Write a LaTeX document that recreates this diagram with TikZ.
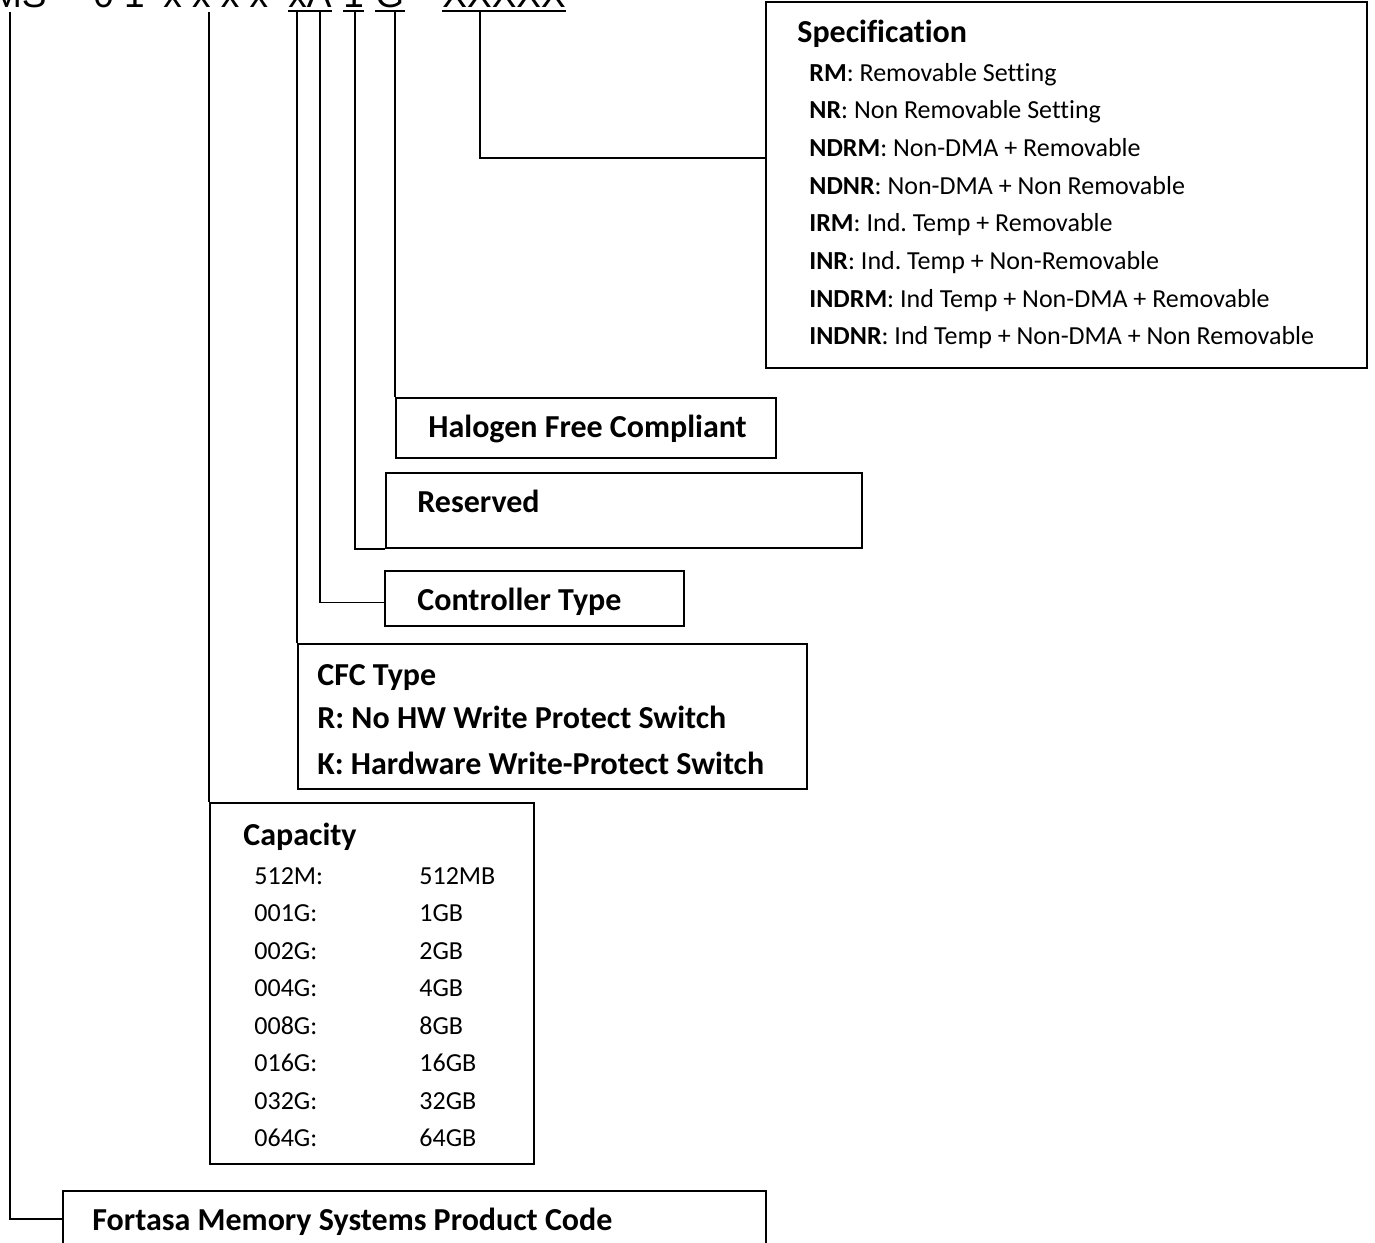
\documentclass[tikz,border=0pt]{standalone}
\usepackage{fontspec}
\setmainfont[Ligatures=NoCommon]{Carlito}
\newfontfamily\arialfont{Liberation Sans}
\frenchspacing
\begin{document}
\begin{tikzpicture}[x=0.5pt,y=-0.5pt,
  box/.style={draw, line width=1pt, inner sep=0pt, anchor=north west},
  conn/.style={line width=0.8pt},
  uline/.style={line width=1pt},
  hd/.style={font=\bfseries\fontsize{16}{19}\selectfont, anchor=base west, inner sep=0pt},
  itm/.style={font=\fontsize{13}{16}\selectfont, anchor=base west, inner sep=0pt},
  codetxt/.style={font=\arialfont\fontsize{18.5}{22}\selectfont, anchor=base west, inner sep=0pt}]
\clip (0,0) rectangle (1375,1242);

% product code (only the lower part is visible)
\node[codetxt, anchor=base east] (t1) at (47,7) {FMS};
\node[codetxt] (t2) at (93,7) {0 1};
\node[codetxt] (t3) at (163,7) {x x x x};
\node[codetxt] (t4) at (288,7) {xA};
\node[codetxt] (t5) at (343,7) {1};
\node[codetxt] (t6) at (375,7) {G};
\node[codetxt] (t7) at (442,7) {XXXXX};
\foreach \t in {t4,t5,t6,t7}
  \draw[uline] ([yshift=-2pt]\t.base west) -- ([yshift=-2pt]\t.base east);

% boxes
\node[box, minimum width=300.5pt, minimum height=183pt] (spec) at (765,1) {};
\node[box, minimum width=190pt, minimum height=30pt] (halo) at (395,397) {};
\node[box, minimum width=238pt, minimum height=37.5pt] (resv) at (385,472) {};
\node[box, minimum width=149.5pt, minimum height=27.5pt] (ctrl) at (384,570) {};
\node[box, minimum width=254.5pt, minimum height=72.5pt] (cfc) at (297,643) {};
\node[box, minimum width=162pt, minimum height=180.5pt] (cap) at (209,802) {};
\node[box, minimum width=351.5pt, minimum height=40pt] (fort) at (62,1190) {};

% connector start points
\coordinate (c1) at (10,12);
\coordinate (c2) at (209,12);
\coordinate (c3) at (297,12);
\coordinate (c4) at (320,12);
\coordinate (c5) at (355,12);
\coordinate (c6) at (395,12);
\coordinate (c7) at (480,12);

\draw[conn] (c1) |- ([yshift=6pt]fort.west);
\draw[conn] (c2) -- (c2 |- cap.north);
\draw[conn] (c3) -- (c3 |- cfc.north);
\draw[conn] (c4) |- ([yshift=-2pt]ctrl.west);
\draw[conn] (c5) |- (resv.south west);
\draw[conn] (c6) -- (c6 |- halo.north);
\draw[conn] (c7) |- ([yshift=13.5pt]spec.west);

% specification texts
\node[hd] (sh) at (797,42) {Specification};
\foreach \k/\a/\b [count=\i from 0] in {
  RM/Removable Setting,
  NR/Non Removable Setting,
  NDRM/Non-DMA + Removable,
  NDNR/Non-DMA + Non Removable,
  IRM/Ind. Temp + Removable,
  INR/Ind. Temp + Non-Removable,
  INDRM/Ind Temp + Non-DMA + Removable,
  INDNR/Ind Temp + Non-DMA + Non Removable}
  \node[itm] (s\k) at (809,{81+37.7*\i}) {\textbf{\k}: \b};

% single-line boxes
\node[hd] (halotxt) at (428,437) {Halogen Free Compliant};
\node[hd] (resvtxt) at (417,512) {Reserved};
\node[hd] (ctrltxt) at (417,610) {Controller Type};

% CFC
\node[hd] (cfc1) at (317,685) {CFC Type};
\node[hd] (cfc2) at (317,728) {R: No HW Write Protect Switch};
\node[hd] (cfc3) at (317,774) {K: Hardware Write-Protect Switch};

% capacity
\node[hd] (caph) at (243,845) {Capacity};
\foreach \c/\v [count=\i from 0] in {512M/512MB,001G/1GB,002G/2GB,004G/4GB,008G/8GB,016G/16GB,032G/32GB,064G/64GB}{
  \node[itm] (cl\i) at (254,{884+37.5*\i}) {\c:};
  \node[itm] (cr\i) at (419,{884+37.5*\i}) {\v};
}

\node[hd] (forttxt) at (92,1230) {Fortasa Memory Systems Product Code};
\end{tikzpicture}
\end{document}
